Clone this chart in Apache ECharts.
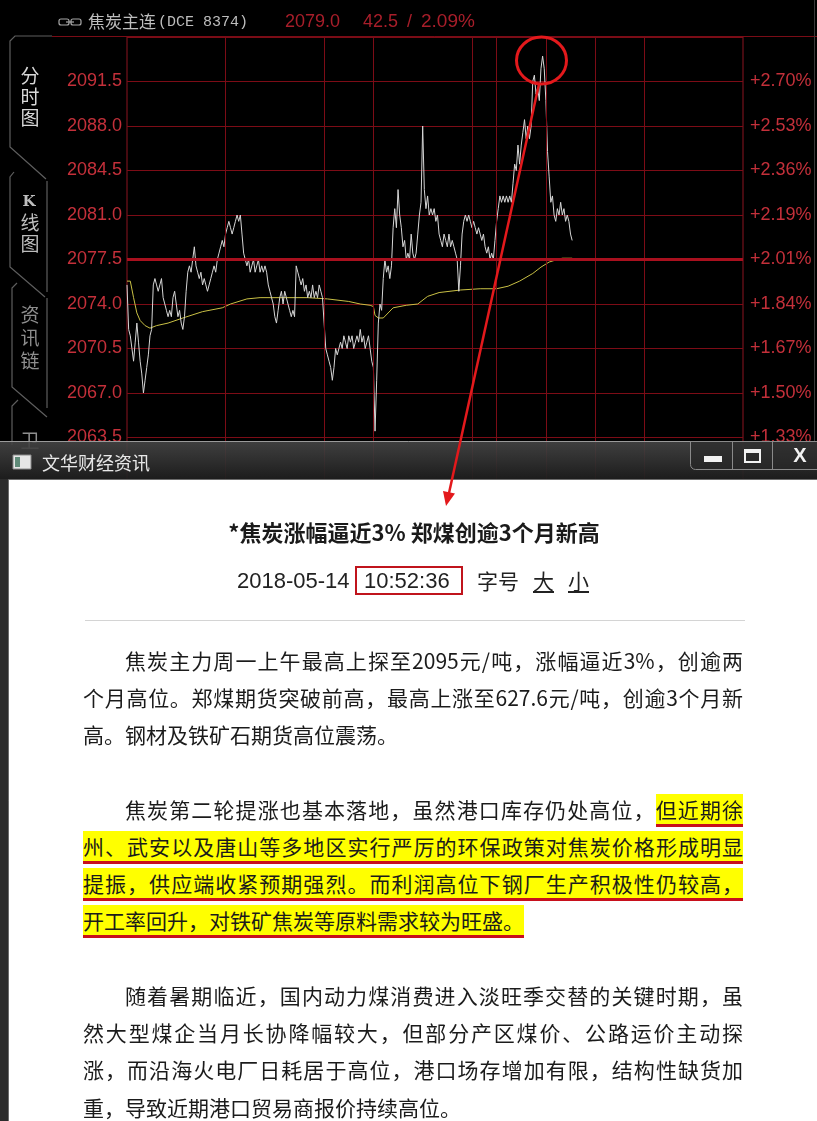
<!DOCTYPE html>
<html>
<head>
<meta charset="utf-8">
<title>焦炭主连 分时图</title>
<script src="https://cdn.jsdelivr.net/npm/echarts@6/dist/echarts.min.js"></script>
<style>
html, body { margin: 0; padding: 0; background: #000; }
#wrap { position: relative; width: 817px; height: 1121px; overflow: hidden; }
#chart { position: absolute; left: 0; top: 0; width: 817px; height: 1121px; }
#news {
  position: absolute; left: 0; top: 0; width: 817px; height: 1121px;
  pointer-events: none; color: #1b1b1b;
  font-family: "Noto Sans CJK SC", "Noto Sans", sans-serif;
}
.t { position: absolute; white-space: nowrap; }
.ln {
  position: absolute; left: 83px; width: 660px; height: 37px; line-height: 37px;
  font-size: 21px; white-space: nowrap; box-sizing: border-box;
}
.full { text-align: justify; text-align-last: justify; }
.ind { padding-left: 42px; }
.hl { background: #ffff00; border-bottom: 3px solid #c8101c; }
.num { font-family: "Liberation Sans", Arial, sans-serif; }
</style>
</head>
<body>
<div id="wrap">
  <div id="chart"></div>
  <div id="news"></div>
</div>
<script>
// 价格轴以 BASE 为零点，刻度每格 3.5
const BASE = 2060;
const leftLabels = ["2060.0", "2063.5", "2067.0", "2070.5", "2074.0", "2077.5", "2081.0", "2084.5", "2088.0", "2091.5", "2095.0"];
const rightLabels = ["+1.15%", "+1.33%", "+1.50%", "+1.67%", "+1.84%", "+2.01%", "+2.19%", "+2.36%", "+2.53%", "+2.70%", "+2.87%"];
// 分钟序号: 21:00 起，夜盘150分钟，日盘从150开始
const gridMinutes = [60, 120, 150, 210, 225, 255, 285, 315];
const midPrice = 2077.5;

// 每分钟价格（白线）
const priceData = [
  2075.5, 2072.0, 2071.5, 2070.5, 2069.5, 2071.0, 2072.5, 2071.0, 2069.5, 2068.5,
  2067.0, 2068.0, 2069.0, 2070.0, 2071.5, 2072.0, 2075.5, 2076.0, 2075.5, 2075.0,
  2075.5, 2076.0, 2074.5, 2074.0, 2073.5, 2073.0, 2073.5, 2073.0, 2074.5, 2075.0,
  2074.0, 2073.0, 2073.5, 2072.5, 2072.0, 2073.0, 2075.0, 2076.5, 2077.0, 2076.5,
  2077.5, 2078.5, 2077.0, 2076.5, 2076.0, 2076.5, 2075.5, 2076.0, 2075.5, 2075.0,
  2075.5, 2076.0, 2076.5, 2077.0, 2076.5, 2077.5, 2078.0, 2078.5, 2079.0, 2078.5,
  2079.5, 2080.0, 2080.5, 2080.0, 2079.5, 2080.0, 2080.5, 2081.0, 2080.5, 2081.0,
  2079.5, 2078.0, 2077.5, 2077.0, 2077.5, 2076.5, 2077.0, 2077.5, 2076.5, 2077.0,
  2077.5, 2076.5, 2077.0, 2076.5, 2077.0, 2076.5, 2075.5, 2075.0, 2074.5, 2074.0,
  2073.0, 2072.5, 2073.5, 2074.5, 2075.0, 2074.0, 2075.0, 2074.5, 2074.0, 2073.5,
  2073.0, 2073.5, 2073.0, 2077.0, 2076.5, 2076.0, 2075.5, 2076.0, 2075.0, 2075.5,
  2074.5, 2075.0, 2074.5, 2075.5, 2074.5, 2075.0, 2074.5, 2075.5, 2075.0, 2074.5,
  2072.5, 2070.5, 2070.0, 2069.5, 2069.0, 2068.0, 2069.0, 2070.5, 2070.0, 2070.5,
  2071.0, 2070.5, 2071.5, 2071.0, 2070.5, 2071.5, 2071.0, 2071.5, 2070.5, 2071.0,
  2071.5, 2071.0, 2072.0, 2071.0, 2071.5, 2070.5, 2071.0, 2071.5, 2070.5, 2069.5,
  2069.0, 2064.0, 2068.0, 2072.5, 2074.0, 2073.5, 2076.0, 2077.5, 2076.5, 2077.0,
  2076.0, 2077.0, 2080.0, 2081.5, 2080.0, 2083.0, 2081.0, 2080.0, 2078.5, 2079.0,
  2077.5, 2078.0, 2077.5, 2079.5, 2078.0, 2077.5, 2078.0, 2079.5, 2081.0, 2082.0,
  2088.0, 2083.0, 2081.5, 2082.5, 2081.0, 2081.5, 2081.0, 2081.5, 2080.5, 2081.0,
  2079.5, 2079.0, 2078.5, 2079.5, 2079.0, 2078.5, 2079.5, 2078.5, 2079.0, 2078.5,
  2078.0, 2077.5, 2075.0, 2077.0, 2079.5, 2080.5, 2081.0, 2080.5, 2081.0, 2080.5,
  2080.0, 2080.5, 2080.0, 2079.5, 2080.0, 2079.5, 2079.0, 2079.5, 2078.5, 2078.0,
  2078.5, 2077.5, 2078.0, 2077.5, 2079.0, 2080.5, 2081.5, 2082.5, 2082.0, 2082.5,
  2082.0, 2082.5, 2082.0, 2082.5, 2082.0, 2083.5, 2085.0, 2084.5, 2086.5, 2085.0,
  2086.5, 2087.5, 2088.5, 2087.0, 2088.0, 2087.0, 2088.0, 2091.5, 2092.0, 2090.5,
  2091.0, 2090.0, 2092.5, 2093.5, 2092.5, 2090.0, 2086.0, 2084.0, 2082.0, 2082.5,
  2081.0, 2080.5, 2081.5, 2081.0, 2082.0, 2081.0, 2081.5, 2080.5, 2081.0, 2080.5,
  2079.5, 2079.0
];

// 均价线（黄线）读数点
const avgMinutes = [0, 2, 4, 6, 8, 11, 14, 18, 25, 34, 46, 58, 63, 73, 81, 95, 110, 122, 135, 142,
  148, 150, 151, 153, 156, 162, 170, 177, 183, 190, 203, 215, 225, 232, 239, 247, 252, 257, 262, 265, 271];
const avgValues = [2075.8, 2075.8, 2074.5, 2073.3, 2072.7, 2072.3, 2072.1, 2072.3, 2072.5, 2072.9,
  2073.4, 2073.7, 2074.0, 2074.4, 2074.5, 2074.5, 2074.5, 2074.4, 2074.2, 2074.0,
  2073.9, 2073.8, 2073.1, 2072.9, 2072.9, 2073.7, 2073.9, 2074.0, 2074.6, 2074.9,
  2075.1, 2075.2, 2075.2, 2075.4, 2075.8, 2076.4, 2076.9, 2077.3, 2077.5, 2077.6, 2077.6];

// 资讯正文，"|" 后面是黄色高亮
const newsTitle = "*焦炭涨幅逼近3% 郑煤创逾3个月新高";
const para1 = [
  "焦炭主力周一上午最高上探至2095元/吨，涨幅逼近3%，创逾两",
  "个月高位。郑煤期货突破前高，最高上涨至627.6元/吨，创逾3个月新",
  "高。钢材及铁矿石期货高位震荡。"
];
const para2 = [
  "焦炭第二轮提涨也基本落地，虽然港口库存仍处高位，|但近期徐",
  "|州、武安以及唐山等多地区实行严厉的环保政策对焦炭价格形成明显",
  "|提振，供应端收紧预期强烈。而利润高位下钢厂生产积极性仍较高，",
  "|开工率回升，对铁矿焦炭等原料需求较为旺盛。"
];
const para3 = [
  "随着暑期临近，国内动力煤消费进入淡旺季交替的关键时期，虽",
  "然大型煤企当月长协降幅较大，但部分产区煤价、公路运价主动探",
  "涨，而沿海火电厂日耗居于高位，港口场存增加有限，结构性缺货加",
  "重，导致近期港口贸易商报价持续高位。"
];

// ---------- 正文 HTML ----------
const news = document.getElementById("news");
let html = "";
html += '<div class="t" style="left:83px;width:662px;top:516px;line-height:30px;text-align:center;font-size:22px;font-weight:bold;color:#1a1a1a;">' + newsTitle + "</div>";
html += '<div class="t num" style="left:237px;top:566px;line-height:29px;font-size:22px;color:#222;">2018-05-14</div>';
html += '<div class="t num" style="left:355px;top:566px;width:104px;height:25px;border:2px solid #c0141c;line-height:25px;font-size:22px;color:#222;box-sizing:content-box;"><span style="position:relative;left:7px;">10:52:36</span></div>';
html += '<div class="t" style="left:477px;top:565px;line-height:30px;font-size:21px;color:#222;">字号</div>';
html += '<div class="t" style="left:533px;top:565px;line-height:30px;font-size:21px;color:#222;text-decoration:underline;">大</div>';
html += '<div class="t" style="left:568px;top:565px;line-height:30px;font-size:21px;color:#222;text-decoration:underline;">小</div>';
html += '<div class="t" style="left:85px;top:620px;width:660px;height:1px;background:#d4d4d4;"></div>';

const lineTop = 641.5;
const lineStep = 37.25;
function addPara(lines, startRow) {
  lines.forEach((txt, i) => {
    const cls = ["ln"];
    if (i === 0) cls.push("ind");
    if (i < lines.length - 1) cls.push("full");
    let inner = txt;
    const k = txt.indexOf("|");
    if (k >= 0) {
      inner = txt.slice(0, k) + '<span class="hl">' + txt.slice(k + 1) + "</span>";
    }
    const top = lineTop + (startRow + i) * lineStep;
    html += '<div class="' + cls.join(" ") + '" style="top:' + top + 'px;">' + inner + "</div>";
  });
}
addPara(para1, 0);
addPara(para2, 4);
addPara(para3, 9);
news.innerHTML = html;

// ---------- 图表 ----------
const myChart = echarts.init(document.getElementById("chart"));
const red = "#e3191c";
const hdRed = "#a81e2a";
const cjk = '"Noto Sans CJK SC"';

const graphics = [
  // 左侧标签页
  { type: "polyline", z: 1, shape: { points: [[52, 36], [15, 36], [10, 41], [10, 147], [46, 179]] }, style: { stroke: "#5e5e5e", lineWidth: 1.2, fill: null } },
  { type: "polyline", z: 1, shape: { points: [[14, 172], [10, 177], [10, 267], [45, 297]] }, style: { stroke: "#5e5e5e", lineWidth: 1.2, fill: null } },
  { type: "line", z: 1, shape: { x1: 47, y1: 181, x2: 47, y2: 292 }, style: { stroke: "#5e5e5e", lineWidth: 1.2 } },
  { type: "polyline", z: 1, shape: { points: [[17, 283], [12, 288], [12, 387], [47, 417]] }, style: { stroke: "#5e5e5e", lineWidth: 1.2, fill: null } },
  { type: "line", z: 1, shape: { x1: 47, y1: 298, x2: 47, y2: 408 }, style: { stroke: "#5e5e5e", lineWidth: 1.2 } },
  { type: "polyline", z: 1, shape: { points: [[18, 400], [12, 406], [12, 445]] }, style: { stroke: "#5e5e5e", lineWidth: 1.2, fill: null } },
  { type: "text", z: 1, x: 30, y: 97, style: { text: "分\n时\n图", fill: "#d8d8d8", font: "19px " + cjk, lineHeight: 21, textAlign: "center", textVerticalAlign: "middle" } },
  { type: "text", z: 1, x: 29, y: 202, style: { text: "K", fill: "#bdbdbd", font: "bold 15px 'DejaVu Serif'", textAlign: "center", textVerticalAlign: "middle" } },
  { type: "text", z: 1, x: 30, y: 233, style: { text: "线\n图", fill: "#bdbdbd", font: "19px " + cjk, lineHeight: 21, textAlign: "center", textVerticalAlign: "middle" } },
  { type: "text", z: 1, x: 30, y: 338, style: { text: "资\n讯\n链", fill: "#8e8e8e", font: "19px " + cjk, lineHeight: 23, textAlign: "center", textVerticalAlign: "middle" } },
  { type: "text", z: 1, x: 30, y: 441, style: { text: "卫", fill: "#8e8e8e", font: "19px " + cjk, textAlign: "center", textVerticalAlign: "middle" } },

  // 顶部标题栏
  { type: "line", z: 1, shape: { x1: 52, y1: 36.5, x2: 817, y2: 36.5 }, style: { stroke: "#7a0c16", lineWidth: 1 } },
  { type: "rect", z: 1, shape: { x: 59, y: 19, width: 10, height: 6, r: 2 }, style: { stroke: "#a8a8a8", fill: null, lineWidth: 1.2 } },
  { type: "rect", z: 1, shape: { x: 71, y: 19, width: 10, height: 6, r: 2 }, style: { stroke: "#a8a8a8", fill: null, lineWidth: 1.2 } },
  { type: "line", z: 1, shape: { x1: 66, y1: 22, x2: 74, y2: 22 }, style: { stroke: "#a8a8a8", lineWidth: 1.2 } },
  { type: "text", z: 1, x: 88, y: 22, style: { text: "焦炭主连", fill: "#bdbdbd", font: "17px " + cjk, textAlign: "left", textVerticalAlign: "middle" } },
  { type: "text", z: 1, x: 158, y: 22, style: { text: "(DCE 8374)", fill: "#bdbdbd", font: "15px 'Liberation Mono'", textAlign: "left", textVerticalAlign: "middle" } },
  { type: "text", z: 1, x: 285, y: 22, style: { text: "2079.0", fill: hdRed, font: "18px 'Liberation Sans'", textAlign: "left", textVerticalAlign: "middle" } },
  { type: "text", z: 1, x: 363, y: 22, style: { text: "42.5", fill: hdRed, font: "18px 'Liberation Sans'", textAlign: "left", textVerticalAlign: "middle" } },
  { type: "text", z: 1, x: 407, y: 22, style: { text: "/", fill: hdRed, font: "18px 'Liberation Sans'", textAlign: "left", textVerticalAlign: "middle" } },
  { type: "text", z: 1, x: 421, y: 22, style: { text: "2.09%", fill: hdRed, font: "19px 'Liberation Sans'", textAlign: "left", textVerticalAlign: "middle" } },
  { type: "line", z: 1, shape: { x1: 814.5, y1: 0, x2: 814.5, y2: 441 }, style: { stroke: "#3a3a3a", lineWidth: 1 } },

  // 资讯窗口
  {
    type: "rect", z: 50, shape: { x: 0, y: 441, width: 817, height: 38 },
    style: { fill: new echarts.graphic.LinearGradient(0, 0, 0, 1, [{ offset: 0, color: "rgba(70,70,70,0.9)" }, { offset: 1, color: "rgba(30,30,30,0.95)" }]) }
  },
  { type: "line", z: 51, shape: { x1: 0, y1: 441.5, x2: 817, y2: 441.5 }, style: { stroke: "#9a9a9a", lineWidth: 1 } },
  { type: "rect", z: 50, shape: { x: 0, y: 479, width: 8, height: 642 }, style: { fill: "#2c2c2c" } },
  { type: "rect", z: 50, shape: { x: 8.5, y: 479.5, width: 809, height: 642 }, style: { fill: "#ffffff", stroke: "#6c6c6c", lineWidth: 1 } },
  { type: "rect", z: 51, shape: { x: 13, y: 455, width: 18, height: 14 }, style: { fill: "#e6e6e6", stroke: "#8a8a8a", lineWidth: 1 } },
  { type: "rect", z: 52, shape: { x: 15, y: 457, width: 5, height: 10 }, style: { fill: "#5f8a78" } },
  { type: "text", z: 51, x: 42, y: 463, style: { text: "文华财经资讯", fill: "#e8e8e8", font: "18px " + cjk, textAlign: "left", textVerticalAlign: "middle" } },
  { type: "rect", z: 51, shape: { x: 690.5, y: 441.5, width: 130, height: 28, r: [0, 0, 0, 5] }, style: { fill: "rgba(40,40,40,0.6)", stroke: "#8a8a8a", lineWidth: 1 } },
  { type: "line", z: 52, shape: { x1: 732.5, y1: 442, x2: 732.5, y2: 469 }, style: { stroke: "#8a8a8a", lineWidth: 1 } },
  { type: "line", z: 52, shape: { x1: 772.5, y1: 442, x2: 772.5, y2: 469 }, style: { stroke: "#8a8a8a", lineWidth: 1 } },
  { type: "rect", z: 52, shape: { x: 704, y: 456, width: 18, height: 6 }, style: { fill: "#f2f2f2" } },
  { type: "rect", z: 52, shape: { x: 745, y: 450, width: 15, height: 12 }, style: { fill: null, stroke: "#f2f2f2", lineWidth: 2 } },
  { type: "rect", z: 52, shape: { x: 745, y: 449, width: 15, height: 4 }, style: { fill: "#f2f2f2" } },
  { type: "text", z: 52, x: 800, y: 456, style: { text: "X", fill: "#f2f2f2", font: "bold 20px 'Liberation Sans'", textAlign: "center", textVerticalAlign: "middle" } },

  // 红圈与箭头
  { type: "ellipse", z: 100, shape: { cx: 541.5, cy: 60.5, rx: 25, ry: 23.5 }, style: { fill: null, stroke: red, lineWidth: 3 } },
  { type: "line", z: 100, shape: { x1: 539, y1: 84, x2: 449, y2: 493 }, style: { stroke: red, lineWidth: 2.5 } },
  { type: "polygon", z: 100, shape: { points: [[446, 506], [455, 493.5], [443, 491]] }, style: { fill: red } }
];

const option = {
  backgroundColor: "#000",
  animation: false,
  grid: {
    left: 127, top: 37, width: 616, height: 445,
    show: true, borderColor: "#8c1420", borderWidth: 1, backgroundColor: "transparent"
  },
  xAxis: {
    type: "value", min: 0, max: 375, show: false,
    splitLine: { show: false }
  },
  yAxis: [
    {
      type: "value", min: 0, max: 35, interval: 3.5, position: "left",
      axisLine: { show: false }, axisTick: { show: false },
      splitLine: { show: true, lineStyle: { color: "#7c0c16", width: 1 } },
      axisLabel: {
        color: "#c4303a", fontSize: 18, fontFamily: "Liberation Sans", margin: 5,
        showMaxLabel: false, showMinLabel: false,
        formatter: (v) => leftLabels[Math.round(v / 3.5)]
      }
    },
    {
      type: "value", min: 0, max: 35, interval: 3.5, position: "right",
      axisLine: { show: false }, axisTick: { show: false }, splitLine: { show: false },
      axisLabel: {
        color: "#c4303a", fontSize: 18, fontFamily: "Liberation Sans", margin: 7,
        showMaxLabel: false, showMinLabel: false,
        formatter: (v) => rightLabels[Math.round(v / 3.5)]
      }
    }
  ],
  series: [
    {
      // 只用来画竖向分隔线和中轴粗线
      name: "grid",
      type: "line",
      data: [],
      z: 1,
      silent: true,
      markLine: {
        silent: true,
        symbol: "none",
        label: { show: false },
        animation: false,
        data: gridMinutes
          .map((m) => ({ xAxis: m, lineStyle: { color: "#7c0c16", width: 1, type: "solid" } }))
          .concat([{ yAxis: midPrice - BASE, lineStyle: { color: "#a8101e", width: 3, type: "solid" } }])
      }
    },
    {
      name: "均价",
      type: "line",
      z: 3,
      showSymbol: false,
      data: avgMinutes.map((m, k) => [m, avgValues[k] - BASE]),
      lineStyle: { color: "#c9c045", width: 1 }
    },
    {
      name: "价格",
      type: "line",
      z: 4,
      showSymbol: false,
      data: priceData.map((p, i) => [i, p - BASE]),
      lineStyle: { color: "#d6d6d6", width: 1 }
    }
  ],
  graphic: { elements: graphics }
};

myChart.setOption(option);
</script>
</body>
</html>
